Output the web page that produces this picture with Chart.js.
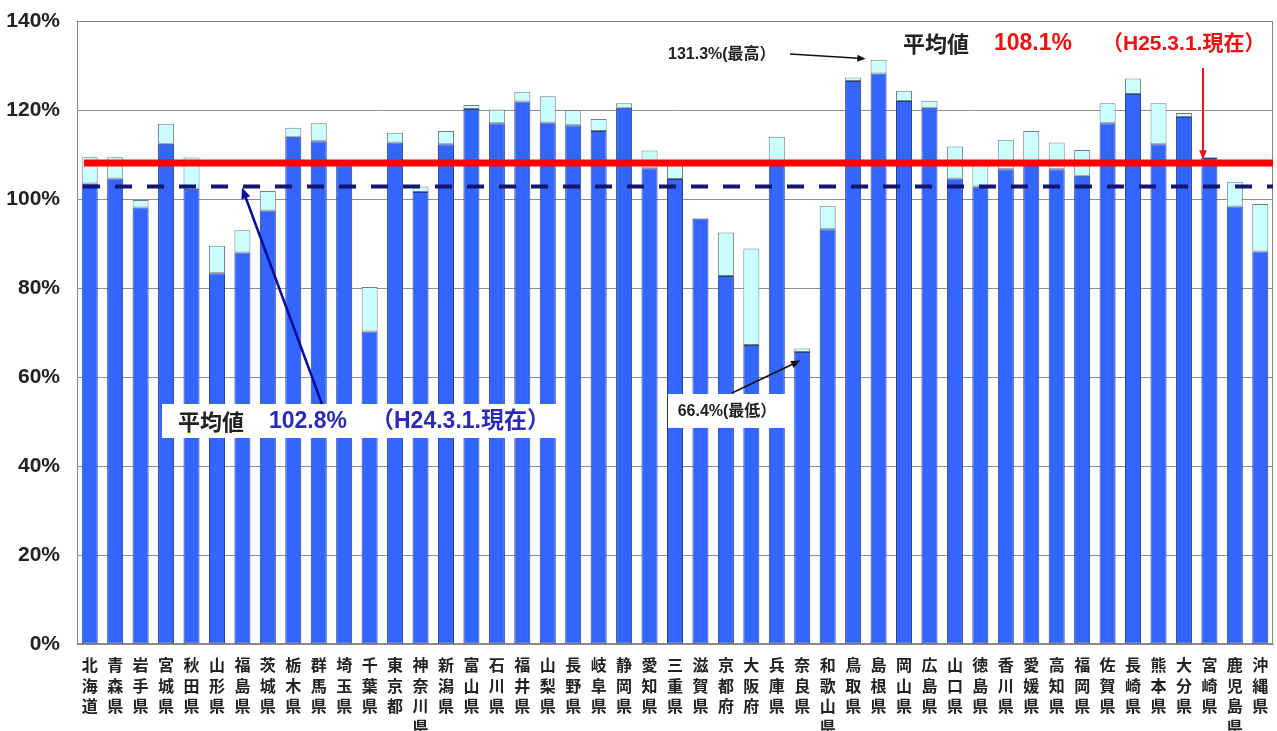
<!DOCTYPE html>
<html lang="ja">
<head>
<meta charset="utf-8">
<title>都道府県別 比率</title>
<script src="https://cdn.jsdelivr.net/npm/chart.js@4.4.1/dist/chart.umd.min.js"></script>
<style>
  html, body { margin: 0; padding: 0; background: #ffffff; }
  #wrap { position: relative; width: 1277px; height: 731px; }
</style>
</head>
<body>
<div id="wrap"><canvas id="chart" width="1277" height="731"></canvas></div>
<script>
// Prefectures, in the usual north-to-south order
const PREFECTURES = [
  '北海道','青森県','岩手県','宮城県','秋田県','山形県','福島県','茨城県','栃木県','群馬県',
  '埼玉県','千葉県','東京都','神奈川県','新潟県','富山県','石川県','福井県','山梨県','長野県',
  '岐阜県','静岡県','愛知県','三重県','滋賀県','京都府','大阪府','兵庫県','奈良県','和歌山県',
  '鳥取県','島根県','岡山県','広島県','山口県','徳島県','香川県','愛媛県','高知県','福岡県',
  '佐賀県','長崎県','熊本県','大分県','宮崎県','鹿児島県','沖縄県'
];

// Ratio (%) as of H24.3.1
const RATE_H24 = [
  103.5, 104.6,  98.1, 112.4, 102.3,  83.3,  88.0,  97.4, 114.0, 113.0,
  107.6,  70.2, 112.7, 101.6, 112.3, 120.2, 117.0, 121.9, 117.2, 116.6,
  115.3, 120.5, 106.9, 104.5,  95.6,  82.7,  67.2, 108.4,  65.6,  93.2,
  126.5, 128.2, 122.0, 120.5, 104.6, 102.8, 106.7, 107.8, 106.7, 105.2,
  117.0, 123.6, 112.3, 118.4, 109.2,  98.3,  88.2
];

// Ratio (%) as of H25.3.1
const RATE_H25 = [
  109.4, 109.4,  99.8, 116.9, 109.3,  89.5,  93.0, 101.8, 116.0, 117.0,
  108.6,  80.2, 114.9, 102.8, 115.3, 121.1, 120.1, 124.1, 123.1, 120.0,
  118.0, 121.5, 110.9, 107.6,  95.7,  92.5,  88.9, 114.0,  66.4,  98.5,
  127.3, 131.3, 124.3, 122.1, 111.8, 107.6, 113.3, 115.3, 112.7, 111.0,
  121.5, 127.1, 121.5, 119.3, 109.4, 103.9,  98.9
];

// National averages
const AVG_H24 = 102.8;
const AVG_H25 = 108.1;

// Value axis ticks
const Y_TICKS = [0, 20, 40, 60, 80, 100, 120, 140];

const MAX_INDEX = RATE_H25.indexOf(Math.max(...RATE_H25));
const MIN_INDEX = RATE_H25.indexOf(Math.min(...RATE_H25));

// Increase over the year, stacked on top of the H24 bar
const RATE_GAIN = RATE_H25.map((v, i) => Math.max(0, +(v - RATE_H24[i]).toFixed(1)));

const LATIN = "'Liberation Sans', 'Noto Sans CJK JP', sans-serif";
const JP = "'Noto Sans CJK JP', 'Liberation Sans', sans-serif";

function arrow(ctx, x1, y1, x2, y2, color, width, head) {
  const ang = Math.atan2(y2 - y1, x2 - x1);
  ctx.save();
  ctx.strokeStyle = color;
  ctx.fillStyle = color;
  ctx.lineWidth = width;
  ctx.beginPath();
  ctx.moveTo(x1, y1);
  ctx.lineTo(x2 - Math.cos(ang) * head * 0.8, y2 - Math.sin(ang) * head * 0.8);
  ctx.stroke();
  ctx.beginPath();
  ctx.moveTo(x2, y2);
  ctx.lineTo(x2 - head * Math.cos(ang - 0.4), y2 - head * Math.sin(ang - 0.4));
  ctx.lineTo(x2 - head * Math.cos(ang + 0.4), y2 - head * Math.sin(ang + 0.4));
  ctx.closePath();
  ctx.fill();
  ctx.restore();
}

function textRun(ctx, parts, x, y) {
  // parts: [text, color, font, gapAfter]
  let cx = x;
  ctx.textBaseline = 'middle';
  ctx.textAlign = 'left';
  for (const [t, color, font, gap] of parts) {
    ctx.font = font;
    ctx.fillStyle = color;
    ctx.fillText(t, cx, y);
    cx += ctx.measureText(t).width + gap;
  }
}

const overlay = {
  id: 'overlay',
  beforeDatasetsDraw(chart) {
    const { ctx, chartArea: a } = chart;
    ctx.save();
    ctx.strokeStyle = '#8a8a8a';
    ctx.lineWidth = 1;
    ctx.strokeRect(a.left + 0.5, a.top + 0.5, a.right - a.left - 1, a.bottom - a.top - 1);
    ctx.restore();
  },
  afterDatasetsDraw(chart) {
    const { ctx, chartArea: a, scales: { x, y } } = chart;

    // H24 average: dashed navy line
    const yOld = y.getPixelForValue(AVG_H24);
    ctx.save();
    ctx.strokeStyle = '#15156e';
    ctx.lineWidth = 4;
    ctx.setLineDash([17, 15]);
    ctx.beginPath();
    ctx.moveTo(a.left + 6, yOld);
    ctx.lineTo(a.right, yOld);
    ctx.stroke();
    ctx.restore();

    // H25 average: thick red line
    const yNew = y.getPixelForValue(AVG_H25);
    ctx.save();
    ctx.strokeStyle = '#ff0000';
    ctx.lineWidth = 7;
    ctx.beginPath();
    ctx.moveTo(a.left + 7, yNew);
    ctx.lineTo(a.right, yNew);
    ctx.stroke();
    ctx.restore();

    // H25 average caption and pointer
    ctx.save();
    textRun(ctx, [
      ['平均値', '#222222', `bold 22px ${JP}`, 25],
      [AVG_H25.toFixed(1) + '%', '#ee1111', `bold 23px ${LATIN}`, 30],
      ['（H25.3.1.現在）', '#ee1111', `bold 21px ${LATIN}`, 0]
    ], 903, 44);
    ctx.restore();
    arrow(ctx, 1203, 68, 1203, yNew - 3.5, '#ee1111', 2, 10);

    // H24 average caption box and pointer
    ctx.save();
    ctx.fillStyle = '#ffffff';
    ctx.fillRect(162, 404, 401, 34);
    textRun(ctx, [
      ['平均値', '#222222', `bold 22px ${JP}`, 25],
      [AVG_H24.toFixed(1) + '%', '#2a2ab4', `bold 23px ${LATIN}`, 24],
      ['（H24.3.1.現在）', '#2a2ab4', `bold 23px ${LATIN}`, 0]
    ], 178, 422);
    ctx.restore();
    arrow(ctx, 322, 404, 242, yOld + 1, '#0a0a9a', 2.5, 12);

    // Highest prefecture
    const xMax = x.getPixelForValue(MAX_INDEX);
    const yMax = y.getPixelForValue(RATE_H25[MAX_INDEX]);
    ctx.save();
    ctx.font = `bold 16px ${LATIN}`;
    ctx.fillStyle = '#222222';
    ctx.textBaseline = 'middle';
    ctx.textAlign = 'left';
    ctx.fillText(RATE_H25[MAX_INDEX].toFixed(1) + '%(最高）', 668, 55);
    ctx.restore();
    arrow(ctx, 790, 54, xMax - 13, yMax - 1, '#111111', 1.3, 9);

    // Lowest prefecture
    const xMin = x.getPixelForValue(MIN_INDEX);
    const yMin = y.getPixelForValue(RATE_H25[MIN_INDEX]);
    ctx.save();
    ctx.fillStyle = '#ffffff';
    ctx.fillRect(668, 394, 119, 34);
    ctx.font = `bold 16px ${LATIN}`;
    ctx.fillStyle = '#222222';
    ctx.textBaseline = 'middle';
    ctx.textAlign = 'center';
    ctx.fillText(RATE_H25[MIN_INDEX].toFixed(1) + '%(最低）', 727, 412);
    ctx.restore();
    arrow(ctx, 732, 393, xMin - 2, yMin + 12, '#111111', 1.5, 10);
  }
};

new Chart(document.getElementById('chart'), {
  type: 'bar',
  data: {
    labels: PREFECTURES.map(p => [...p]),
    datasets: [
      {
        label: 'H24.3.1',
        data: RATE_H24,
        backgroundColor: '#3366ff',
        borderColor: '#2b3f8f',
        borderWidth: 1,
        borderSkipped: false
      },
      {
        label: 'H25.3.1 増加分',
        data: RATE_GAIN,
        backgroundColor: '#ccffff',
        borderColor: '#6f7f80',
        borderWidth: 1,
        borderSkipped: false
      }
    ]
  },
  options: {
    responsive: false,
    animation: false,
    devicePixelRatio: 1,
    layout: { padding: { left: 0, top: 21, right: 4, bottom: 0 } },
    plugins: { legend: { display: false }, tooltip: { enabled: false } },
    datasets: { bar: { categoryPercentage: 1, barPercentage: 0.63 } },
    scales: {
      x: {
        stacked: true,
        grid: { display: false, drawTicks: false },
        border: { display: true, color: '#8a8a8a' },
        ticks: {
          autoSkip: false,
          maxRotation: 0,
          minRotation: 0,
          padding: 11,
          color: '#222222',
          font: { family: JP, size: 16, weight: 'bold', lineHeight: 1.28 }
        },
        afterFit: s => { s.height = 87; s.paddingLeft = 0; s.paddingRight = 0; }
      },
      y: {
        stacked: true,
        min: Y_TICKS[0],
        max: Y_TICKS[Y_TICKS.length - 1],
        afterBuildTicks: s => { s.ticks = Y_TICKS.map(v => ({ value: v })); },
        grid: { color: '#8f8f8f', lineWidth: 1, drawTicks: false },
        border: { display: true, color: '#8a8a8a' },
        ticks: {
          padding: 17,
          color: '#222222',
          font: { family: LATIN, size: 21, weight: 'bold' },
          callback: v => v + '%'
        },
        afterFit: s => { s.width = 77; s.paddingTop = 0; s.paddingBottom = 0; }
      }
    }
  },
  plugins: [overlay]
});
</script>
</body>
</html>
